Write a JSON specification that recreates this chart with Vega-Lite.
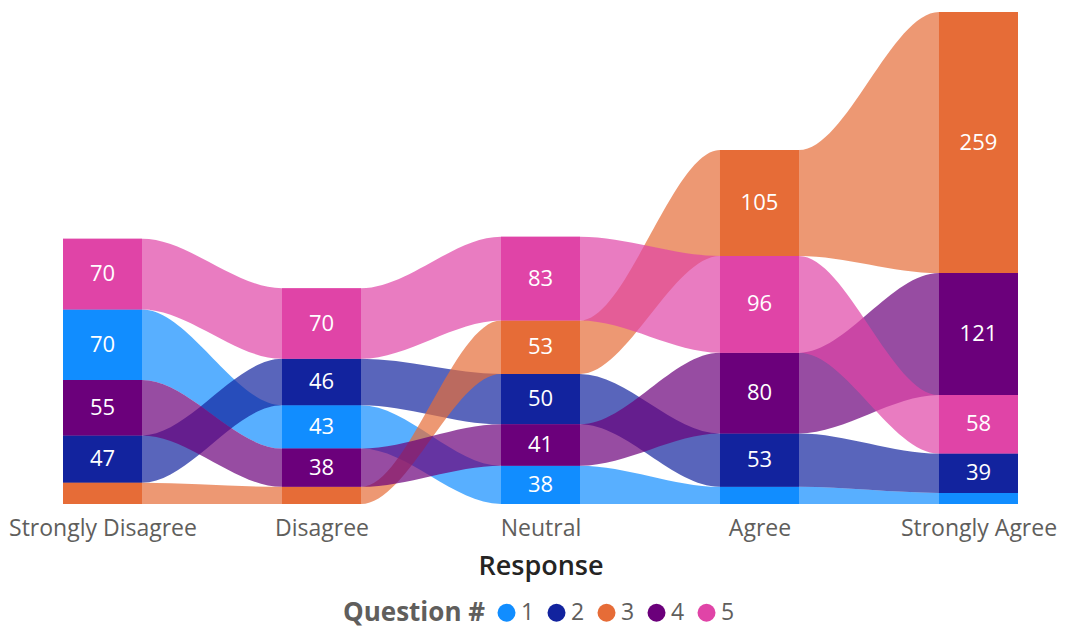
{
  "$schema": "https://vega.github.io/schema/vega-lite/v6.json",
  "width": 955,
  "height": 492,
  "autosize": {"type": "none"},
  "padding": {"left": 63, "top": 12, "right": 59, "bottom": 126},
  "background": "white",
  "config": {
    "view": {"stroke": null},
    "font": "Open Sans",
    "legend": {
      "orient": "none",
      "legendX": 280,
      "legendY": 589,
      "direction": "horizontal",
      "titleOrient": "left",
      "titleFontSize": 26,
      "titleFontWeight": "bold",
      "titleColor": "#605E5C",
      "labelFontSize": 23,
      "labelColor": "#605E5C",
      "symbolType": "circle",
      "symbolSize": 324,
      "symbolOpacity": 1,
      "symbolStrokeWidth": 0,
      "labelOffset": 3,
      "columnPadding": 10,
      "titlePadding": 9
    }
  },
  "data": {
    "values": [
      {"response": "Strongly Disagree", "question": 1, "count": 70},
      {"response": "Strongly Disagree", "question": 2, "count": 47},
      {"response": "Strongly Disagree", "question": 3, "count": 21},
      {"response": "Strongly Disagree", "question": 4, "count": 55},
      {"response": "Strongly Disagree", "question": 5, "count": 70},
      {"response": "Disagree", "question": 1, "count": 43},
      {"response": "Disagree", "question": 2, "count": 46},
      {"response": "Disagree", "question": 3, "count": 17},
      {"response": "Disagree", "question": 4, "count": 38},
      {"response": "Disagree", "question": 5, "count": 70},
      {"response": "Neutral", "question": 1, "count": 38},
      {"response": "Neutral", "question": 2, "count": 50},
      {"response": "Neutral", "question": 3, "count": 53},
      {"response": "Neutral", "question": 4, "count": 41},
      {"response": "Neutral", "question": 5, "count": 83},
      {"response": "Agree", "question": 1, "count": 17},
      {"response": "Agree", "question": 2, "count": 53},
      {"response": "Agree", "question": 3, "count": 105},
      {"response": "Agree", "question": 4, "count": 80},
      {"response": "Agree", "question": 5, "count": 96},
      {"response": "Strongly Agree", "question": 1, "count": 11},
      {"response": "Strongly Agree", "question": 2, "count": 39},
      {"response": "Strongly Agree", "question": 3, "count": 259},
      {"response": "Strongly Agree", "question": 4, "count": 121},
      {"response": "Strongly Agree", "question": 5, "count": 58}
    ]
  },
  "transform": [
    {"calculate": "indexof(['Strongly Disagree','Disagree','Neutral','Agree','Strongly Agree'], datum.response) + 1", "as": "idx"},
    {"calculate": "datum.idx - 0.18037", "as": "xl"},
    {"calculate": "datum.idx + 0.18037", "as": "xr"},
    {"stack": "count", "groupby": ["response"], "sort": [{"field": "count", "order": "ascending"}, {"field": "question", "order": "ascending"}], "as": ["y0", "y1"]}
  ],
  "encoding": {
    "color": {
      "field": "question",
      "type": "nominal",
      "title": "Question #",
      "scale": {"domain": [1, 2, 3, 4, 5], "range": ["#118DFF", "#12239E", "#E66C37", "#6B007B", "#E044A7"]}
    }
  },
  "layer": [
    {
      "transform": [{"fold": ["xl", "xr"], "as": ["edge", "xe"]}],
      "mark": {"type": "area", "interpolate": "monotone", "opacity": 0.7},
      "encoding": {
        "x": {"field": "xe", "type": "quantitative", "scale": {"domain": [0.81963, 5.18037], "nice": false, "zero": false},
          "axis": {"values": [1, 2, 3, 4, 5], "labelExpr": "['','Strongly Disagree','Disagree','Neutral','Agree','Strongly Agree'][datum.value]",
            "domain": false, "ticks": false, "grid": false, "labelFontSize": 23, "labelColor": "#605E5C", "labelPadding": 13, "labelLimit": 0,
            "title": "Response", "titleFontSize": 27, "titleFontWeight": 600, "titleColor": "#252423", "titlePadding": 13, "labelFlush": false}},
        "y": {"field": "y0", "type": "quantitative", "stack": null, "scale": {"domain": [0, 488], "nice": false}, "axis": null},
        "y2": {"field": "y1"},
        "detail": {"field": "question"}
      }
    },
    {
      "mark": {"type": "rect"},
      "encoding": {
        "x": {"field": "xl", "type": "quantitative"},
        "x2": {"field": "xr"},
        "y": {"field": "y0", "type": "quantitative"},
        "y2": {"field": "y1"}
      }
    },
    {
      "transform": [
        {"filter": "datum.count >= 25"},
        {"calculate": "(datum.y0 + datum.y1) / 2", "as": "ymid"}
      ],
      "mark": {"type": "text", "color": "white", "fontSize": 22, "baseline": "middle", "align": "center"},
      "encoding": {
        "x": {"field": "idx", "type": "quantitative"},
        "y": {"field": "ymid", "type": "quantitative"},
        "text": {"field": "count", "type": "quantitative"},
        "color": {"value": "white"}
      }
    }
  ]
}
